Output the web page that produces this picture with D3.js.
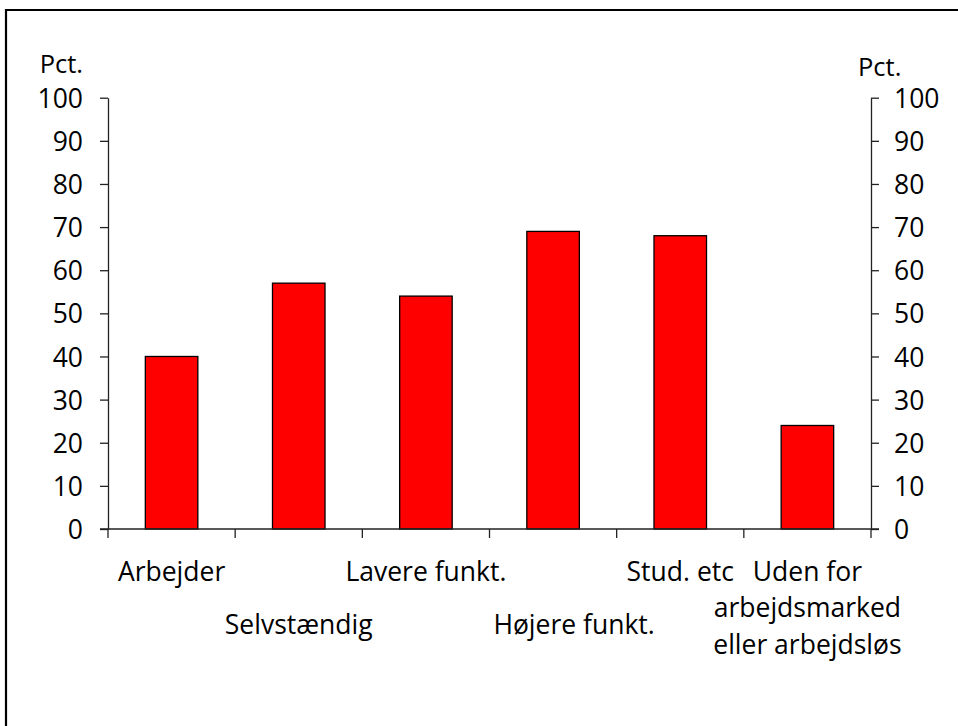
<html>
<head>
  <meta charset="UTF-8">
  <title>Pct. efter socialgruppe</title>
  <script src="https://d3js.org/d3.v7.min.js"></script>
  <style>
    body { margin: 0; background: white; }
    text { font-family: "Open Sans", sans-serif; fill: black; }
    .axis path, .axis line { stroke: #222; stroke-width: 1.3; }
  </style>
</head>
<body>
  <svg></svg>
  <script>
    // Data
    const categories = ["Arbejder", "Selvstændig", "Lavere funkt.", "Højere funkt.", "Stud. etc", "Uden for arbejdsmarked eller arbejdsløs"];
    const labelLines = [["Arbejder"], ["Selvstændig"], ["Lavere funkt."], ["Højere funkt."], ["Stud. etc"], ["Uden for", "arbejdsmarked", "eller arbejdsløs"]];
    const labelRow = [0, 1, 0, 1, 0, 0];
    const values = [40, 57, 54, 69, 68, 24];
    const yTicks = [0, 10, 20, 30, 40, 50, 60, 70, 80, 90, 100];
    const unitLabel = "Pct.";

    const width = 958;
    const height = 726;
    const margins = { top: 97.7, right: 87, bottom: 197, left: 108 };
    const chartWidth = width - margins.left - margins.right;
    const chartHeight = height - margins.top - margins.bottom;

    let svg = d3.select("svg")
                .attr("width", width)
                .attr("height", height);

    // Frame (runs past the bottom and right edges)
    svg.append("path")
       .attr("d", `M6,${height + 5} V10 H${width + 5}`)
       .attr("fill", "none")
       .attr("stroke", "black")
       .attr("stroke-width", 2.2);

    let chartArea = svg.append("g").attr("transform", `translate(${margins.left}, ${margins.top})`);

    // Scales
    const xScale = d3.scaleBand().domain(categories).range([0, chartWidth]).padding(0);
    const yScale = d3.scaleLinear().domain([0, 100]).range([chartHeight, 0]);

    // Bars
    const barW = xScale.bandwidth() * 0.413;
    chartArea.selectAll("rect.bar")
      .data(values)
      .join("rect")
      .attr("class", "bar")
      .attr("x", (d, i) => xScale(categories[i]) + xScale.bandwidth() / 2 - barW / 2)
      .attr("y", d => yScale(d))
      .attr("width", barW)
      .attr("height", d => chartHeight - yScale(d))
      .style("fill", "#ff0000")
      .style("stroke", "black")
      .style("stroke-width", 1.3);

    // Axes
    let leftAxis = d3.axisLeft(yScale).tickValues(yTicks).tickSize(8).tickSizeOuter(0).tickPadding(17);
    let gl = chartArea.append("g").attr("class", "y axis").call(leftAxis);

    let rightAxis = d3.axisRight(yScale).tickValues(yTicks).tickSize(8).tickSizeOuter(0).tickPadding(15);
    let gr = chartArea.append("g").attr("class", "y axis")
      .attr("transform", `translate(${chartWidth}, 0)`)
      .call(rightAxis);

    [gl, gr].forEach(g => {
      g.selectAll("text").style("font-size", "26.5px").style("font-family", "'Open Sans', sans-serif").attr("dy", "0.36em");
    });

    // Bottom axis: ticks at category boundaries
    const boundaries = categories.map(c => xScale(c)).concat([chartWidth]);
    let gb = chartArea.append("g").attr("class", "x axis")
      .attr("transform", `translate(0, ${chartHeight})`);
    gb.append("line")
      .attr("x1", -8).attr("x2", chartWidth + 8)
      .attr("y1", 0).attr("y2", 0);
    gb.selectAll("line.tick")
      .data(boundaries)
      .join("line")
      .attr("class", "tick")
      .attr("x1", d => d).attr("x2", d => d)
      .attr("y1", 0).attr("y2", 9);

    // Category labels
    const rowY = [51.5, 104.5];
    const lineH = 36.5;
    labelLines.forEach((lines, i) => {
      const cx = xScale(categories[i]) + xScale.bandwidth() / 2 + (i === 3 ? 21 : 0);
      lines.forEach((ln, j) => {
        gb.append("text")
          .attr("x", cx)
          .attr("y", rowY[labelRow[i]] + j * lineH)
          .attr("text-anchor", "middle")
          .style("font-size", "26.5px")
          .text(ln);
      });
    });

    // Unit labels
    svg.append("text")
       .attr("x", 83).attr("y", 73)
       .attr("text-anchor", "end")
       .style("font-size", "25.5px")
       .text(unitLabel);
    svg.append("text")
       .attr("x", 858).attr("y", 76)
       .style("font-size", "25.5px")
       .text(unitLabel);
  </script>
</body>
</html>
